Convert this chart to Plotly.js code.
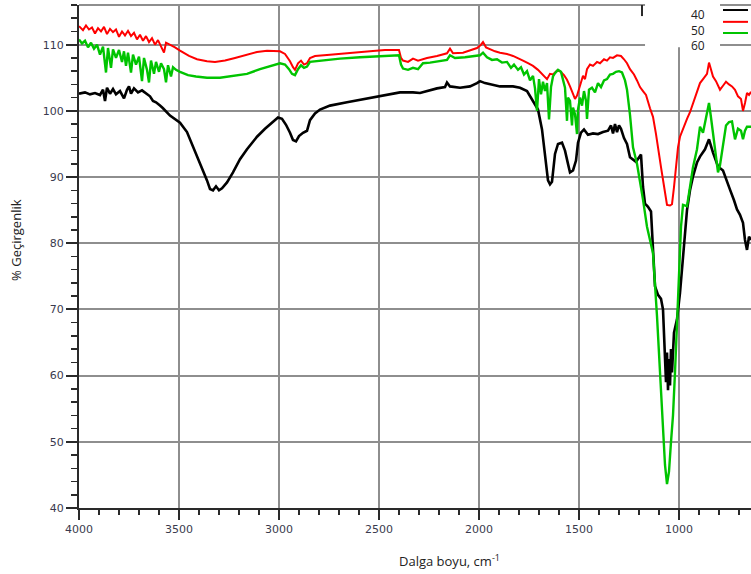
<!DOCTYPE html>
<html>
<head>
<meta charset="utf-8">
<script src="https://cdn.plot.ly/plotly-3.0.1.min.js"></script>
<style>html,body{margin:0;padding:0;background:#fff;}#chart{width:751px;height:574px;}</style>
</head>
<body>
<div id="chart"></div>
<script>
// Series names (legend labels)
const seriesNames = ["40", "50", "60"];

// Series "40" (black): wavenumber (cm-1) and % transmittance
const wn40 = [
  4000,3970,3945,3920,3895,3880,3870,3860,3845,3830,
  3815,3795,3775,3760,3750,3740,3725,3705,3685,3665,
  3645,3630,3615,3595,3580,3545,3495,3460,3430,3405,
  3380,3360,3345,3330,3315,3300,3285,3260,3230,3195,
  3160,3110,3070,3035,3005,2985,2965,2945,2930,2915,
  2900,2880,2860,2845,2820,2795,2745,2660,2570,2495,
  2395,2330,2295,2210,2170,2160,2145,2095,2045,2010,
  1995,1970,1945,1895,1830,1795,1760,1730,1705,1685,
  1670,1655,1645,1635,1620,1605,1585,1570,1555,1545,
  1530,1515,1505,1490,1475,1455,1430,1405,1380,1355,
  1340,1330,1320,1310,1300,1290,1275,1260,1245,1230,
  1215,1190,1180,1170,1155,1140,1130,1120,1105,1090,
  1080,1070,1065,1060,1055,1050,1045,1040,1035,1025,
  1010,995,980,960,945,930,910,895,870,850,
  830,805,780,760,745,725,710,695,680,670,
  660,650,640
];
const t40 = [
  102.6,102.8,102.5,102.7,102.4,103.2,101.5,103.5,102.6,103.3,
  102.5,103.0,101.9,103.2,103.7,102.6,103.4,102.8,103.1,102.6,
  102.2,101.5,101.3,100.8,100.4,99.3,98.2,96.8,94.6,93.0,
  91.1,89.5,88.2,88.0,88.6,88.0,88.3,89.2,90.7,92.7,
  94.2,96.1,97.3,98.3,99.0,98.8,97.9,96.7,95.6,95.4,
  96.2,96.7,97.0,98.6,99.6,100.2,100.8,101.3,101.8,102.2,
  102.8,102.8,102.7,103.4,103.6,104.3,103.7,103.5,103.7,104.2,
  104.5,104.2,104.0,103.7,103.7,103.5,103.0,101.5,100.2,97.2,
  93.5,89.5,88.9,89.3,93.5,95.0,95.2,94.0,92.0,90.7,
  91.0,92.5,95.2,96.7,97.2,96.4,96.6,96.5,96.8,97.0,
  97.8,96.6,98.0,96.8,97.8,97.3,95.9,95.0,93.0,92.6,
  92.3,93.4,88.5,86.0,85.5,84.8,79.5,73.5,72.2,71.6,
  70.0,62.0,59.0,63.5,57.8,62.5,58.5,64.0,60.5,66.5,
  68.5,72.5,78.5,85.0,88.0,90.1,92.2,93.1,94.2,95.7,
  93.7,91.6,91.0,89.5,88.1,86.5,85.1,84.3,83.1,80.5,
  79.0,81.0,80.5
];

// Series "50" (red)
const wn50 = [
  4000,3980,3965,3950,3935,3920,3905,3890,3875,3860,
  3845,3830,3815,3800,3785,3770,3755,3740,3725,3710,
  3695,3680,3665,3650,3635,3620,3605,3590,3575,3565,
  3545,3520,3495,3450,3410,3360,3320,3270,3220,3160,
  3110,3060,2995,2970,2945,2930,2920,2905,2890,2875,
  2860,2845,2820,2745,2645,2545,2470,2400,2390,2380,
  2355,2330,2305,2260,2210,2160,2145,2130,2080,2045,
  2010,1990,1980,1965,1945,1920,1895,1860,1830,1805,
  1780,1755,1730,1705,1680,1660,1645,1630,1610,1595,
  1575,1560,1545,1530,1520,1510,1495,1480,1470,1460,
  1445,1430,1410,1395,1375,1360,1345,1330,1310,1290,
  1275,1260,1245,1225,1210,1195,1180,1165,1145,1130,
  1115,1105,1090,1080,1070,1060,1045,1035,1025,1020,
  1005,995,975,960,945,930,910,895,875,860,
  850,840,830,815,795,780,765,750,735,720,
  705,690,680,670,660,650,640
];
const t50 = [
  112.8,112.2,112.9,112.3,112.6,111.7,112.5,112.0,112.7,111.6,
  112.4,111.9,112.3,111.2,112.0,111.4,112.1,111.3,111.8,110.8,
  111.5,110.6,111.3,110.4,111.0,110.0,110.7,109.8,108.8,110.3,
  110.0,109.6,109.1,108.3,107.8,107.5,107.4,107.6,108.0,108.5,
  108.9,109.1,109.0,108.6,107.5,106.6,106.2,107.2,107.6,107.0,
  107.2,108.0,108.3,108.5,108.8,109.0,109.2,109.2,108.0,107.6,
  107.4,107.9,107.6,108.0,108.3,108.7,109.4,108.7,108.8,109.1,
  109.5,110.0,110.4,109.6,109.3,109.0,108.8,108.6,108.3,108.0,
  107.6,107.2,106.8,106.2,105.4,104.8,105.6,105.5,106.1,106.0,
  105.4,104.7,103.7,102.7,101.8,102.3,103.7,105.3,104.8,106.3,
  107.0,106.8,107.4,107.2,107.8,107.6,108.1,108.0,108.4,108.3,
  107.8,107.2,106.3,105.5,104.6,103.6,103.0,102.4,100.4,99.1,
  96.5,94.2,91.5,89.6,87.5,85.8,85.7,85.9,88.5,90.1,
  94.5,96.1,97.8,98.8,99.8,101.2,102.8,104.2,105.0,105.6,
  107.3,106.3,105.2,104.5,103.2,103.8,104.4,104.0,103.7,103.2,
  102.2,101.8,100.0,101.2,102.7,102.4,102.9
];

// Series "60" (green)
const wn60 = [
  4000,3985,3970,3955,3940,3925,3910,3895,3880,3865,
  3855,3840,3830,3815,3800,3785,3775,3765,3755,3740,
  3730,3715,3700,3685,3675,3660,3650,3640,3625,3615,
  3600,3590,3575,3565,3555,3540,3530,3515,3495,3455,
  3415,3360,3295,3220,3160,3095,3045,2995,2970,2950,
  2935,2920,2905,2890,2875,2860,2845,2795,2695,2595,
  2495,2400,2390,2380,2355,2330,2305,2280,2245,2195,
  2160,2145,2120,2070,2030,1995,1980,1960,1935,1910,
  1885,1860,1840,1825,1805,1790,1775,1760,1745,1730,
  1720,1710,1700,1690,1680,1670,1660,1650,1640,1630,
  1620,1605,1590,1580,1570,1560,1555,1545,1535,1530,
  1520,1510,1505,1495,1485,1475,1465,1460,1450,1435,
  1420,1405,1390,1375,1360,1345,1330,1315,1300,1285,
  1270,1260,1245,1230,1210,1180,1160,1145,1130,1110,
  1100,1085,1070,1060,1050,1040,1030,1020,1010,1000,
  990,980,960,945,930,910,895,880,865,850,
  840,830,815,805,795,780,765,750,735,720,
  705,690,680,670,660,640
];
const t60 = [
  110.8,110.2,110.6,109.6,110.3,109.4,110.0,108.5,109.7,105.8,
  109.5,106.5,109.3,108.0,109.2,107.4,109.0,106.8,108.8,105.8,
  108.5,107.0,108.2,104.5,108.0,106.2,104.3,107.6,105.6,107.4,
  105.9,107.2,106.3,104.3,106.9,105.2,106.6,106.2,105.9,105.4,
  105.2,105.0,105.0,105.3,105.6,106.3,106.8,107.2,107.0,106.3,
  105.6,105.4,106.3,106.9,106.5,106.7,107.4,107.6,107.9,108.1,
  108.2,108.4,107.0,106.4,106.2,106.5,106.3,107.2,107.3,107.6,
  107.7,108.4,108.0,108.1,108.3,108.4,108.8,108.1,107.7,107.8,
  107.3,107.4,106.5,107.0,106.2,106.6,105.5,106.0,104.6,105.3,
  103.4,100.0,104.8,102.5,104.4,103.0,104.2,98.7,103.6,105.2,
  105.7,106.2,105.9,104.8,103.5,98.5,102.0,101.5,97.8,100.5,
  99.5,96.5,100.2,102.0,100.8,103.0,101.5,98.8,103.2,103.5,
  102.8,104.2,103.6,104.6,104.8,105.5,105.6,105.9,106.0,105.8,
  104.6,103.2,99.4,94.5,92.0,86.6,82.5,80.5,78.5,69.0,
  63.0,54.0,46.5,43.6,45.5,50.0,54.0,60.5,68.5,76.0,
  82.5,85.8,85.6,88.5,91.5,94.2,97.6,96.7,98.8,101.2,
  99.0,96.7,92.5,90.7,91.8,94.5,97.8,98.3,98.4,95.7,
  97.3,97.0,95.7,97.0,97.6,97.6
];

const seriesColors = ["#000000", "#ff0000", "#00c400"];
const seriesWidths = [2.6, 2, 2.4];

const xs = [wn40, wn50, wn60];
const ys = [t40, t50, t60];

const traces = [0,1,2].map(i => ({
  type: "scatter",
  mode: "lines",
  name: seriesNames[i],
  x: xs[i],
  y: ys[i],
  line: {color: seriesColors[i], width: seriesWidths[i]},
  showlegend: false,
  hoverinfo: "x+y+name"
}));

const gridC = "#8e8e8e";
const axisC = "#2a2a2a";
const tickFont = {family: "DejaVu Sans", size: 11, color: "#3a3a4e"};
const titleFont = {family: "Open Sans", size: 13, color: "#222"};

// custom legend (text left of line sample, as in the reference)
const legX0 = 0.9583, legX1 = 0.9955;
const legY = [0.990, 0.9665, 0.9443];

const shapes = [
  {type: "line", xref: "x", yref: "paper", x0: 2000, x1: 2000, y0: 0, y1: 1,
   line: {color: "#3a3a3a", width: 2}, layer: "below"},
  {type: "line", xref: "paper", yref: "paper", x0: 0, x1: 1, y0: 1, y1: 1,
   line: {color: gridC, width: 2}, layer: "below"},
  {type: "rect", xref: "paper", yref: "paper", x0: 0.8423, x1: 0.9539, y0: 0.916, y1: 1.004,
   fillcolor: "#ffffff", line: {width: 0}, layer: "above"},
  {type: "line", xref: "paper", yref: "paper", x0: 0.8378, x1: 0.8378, y0: 0.978, y1: 1.0,
   line: {color: axisC, width: 2}, layer: "above"}
];
[0,1,2].forEach(i => shapes.push({
  type: "line", xref: "paper", yref: "paper", x0: legX0, x1: legX1, y0: legY[i], y1: legY[i],
  line: {color: seriesColors[i], width: 2}, layer: "above"
}));

const annotations = [
  {
    xref: "paper", yref: "paper", x: 0.9330, y: 1.0, xanchor: "right", yanchor: "top",
    text: seriesNames.join("<br>"), align: "right", showarrow: false, borderpad: 0,
    font: {family: "Open Sans", size: 12, color: "#222"}
  },
  {
    xref: "paper", yref: "paper", x: 0.552, y: -0.105, xanchor: "center", yanchor: "middle",
    text: "Dalga boyu, cm<sup>-1</sup>", showarrow: false, font: titleFont
  },
  {
    xref: "paper", yref: "paper", x: 0, y: 0.533, xanchor: "center", yanchor: "middle",
    xshift: -63, textangle: -90,
    text: "% Geçirgenlik", showarrow: false, font: titleFont
  }
];

const layout = {
  width: 751, height: 574,
  margin: {l: 79, r: 0, t: 5, b: 66, pad: 0},
  paper_bgcolor: "#ffffff", plot_bgcolor: "#ffffff",
  showlegend: false,
  xaxis: {
    range: [4000, 640], tick0: 0, dtick: 500,
    showgrid: true, gridcolor: gridC, gridwidth: 2, zeroline: false,
    showline: true, linecolor: axisC, linewidth: 2,
    ticks: "outside", ticklen: 10, tickwidth: 2, tickcolor: axisC,
    minor: {dtick: 100, ticks: "outside", ticklen: 5, tickwidth: 1.5, tickcolor: axisC, showgrid: false},
    tickfont: tickFont
  },
  yaxis: {
    range: [40, 116], tick0: 0, dtick: 10,
    showgrid: true, gridcolor: gridC, gridwidth: 2, zeroline: false,
    showline: true, linecolor: axisC, linewidth: 2,
    ticks: "outside", ticklen: 11, tickwidth: 2, tickcolor: axisC,
    minor: {dtick: 2, ticks: "outside", ticklen: 6, tickwidth: 1.5, tickcolor: axisC, showgrid: false},
    tickfont: tickFont
  },
  shapes: shapes,
  annotations: annotations
};

Plotly.newPlot("chart", traces, layout, {displayModeBar: false, staticPlot: true});
</script>
</body>
</html>
